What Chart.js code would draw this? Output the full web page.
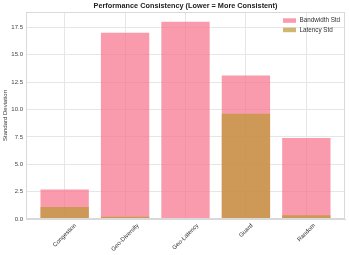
<!DOCTYPE html>
<html>
<head>
<meta charset="utf-8">
<script src="https://cdn.jsdelivr.net/npm/chart.js@4/dist/chart.umd.min.js"></script>
<style>
  body { margin: 0; background: #fff; }
</style>
</head>
<body>
<canvas id="chart" width="349" height="255"></canvas>
<script>
const categories = ["Congestion", "Geo-Diversity", "Geo-Latency", "Guard", "Random"];
const bandwidthStd = [2.7, 17.0, 18.0, 13.1, 7.4];
const latencyStd = [1.1, 0.2, 0.05, 9.6, 0.35];
const yTicks = [0, 2.5, 5, 7.5, 10, 12.5, 15, 17.5];
const chartTitle = "Performance Consistency (Lower = More Consistent)";

const font = "'Liberation Sans', Arial, sans-serif";

// matplotlib-like extras: title over the plot, frame, centred rotated labels, inner legend
const extras = {
    id: "extras",
    afterDraw(chart) {
        const ctx = chart.ctx;
        const area = chart.chartArea;
        const xs = chart.scales.x;
        ctx.save();

        // plot frame
        ctx.strokeStyle = "#d9d9d9";
        ctx.lineWidth = 1;
        ctx.strokeRect(area.left + 0.5, area.top + 0.5, area.right - area.left - 1, area.bottom - area.top - 1);

        // title, centred on the plot area
        ctx.font = "bold 7.3px " + font;
        ctx.fillStyle = "#222";
        ctx.textAlign = "center";
        ctx.textBaseline = "middle";
        ctx.fillText(chartTitle, (area.left + area.right) / 2, 6);

        // x labels rotated 45deg, bbox centred under the tick
        ctx.font = "6px " + font;
        ctx.fillStyle = "#333";
        ctx.textAlign = "right";
        ctx.textBaseline = "top";
        const h = 6;
        categories.forEach((c, i) => {
            const w = ctx.measureText(c).width;
            const x = xs.getPixelForValue(i) + 0.354 * (w - h);
            ctx.save();
            ctx.translate(x, area.bottom + 3.5);
            ctx.rotate(-Math.PI / 4);
            ctx.fillText(c, 0, 0);
            ctx.restore();
        });

        // legend, top right inside the plot
        ctx.font = "6.3px " + font;
        ctx.textAlign = "left";
        ctx.textBaseline = "middle";
        chart.data.datasets.forEach((ds, i) => {
            const y = area.top + 8.3 + i * 9.4;
            ctx.fillStyle = ds.backgroundColor;
            ctx.fillRect(area.right - 62, y - 2, 13, 4.5);
            ctx.fillStyle = "#333";
            ctx.fillText(ds.label, area.right - 45.5, y + 0.3);
        });
        ctx.restore();
    }
};

new Chart(document.getElementById("chart"), {
    type: "bar",
    data: {
        datasets: [
            {
                label: "Bandwidth Std",
                data: bandwidthStd.map((v, i) => ({ x: i, y: v })),
                backgroundColor: "rgba(247, 113, 137, 0.7)",
                order: 2
            },
            {
                label: "Latency Std",
                data: latencyStd.map((v, i) => ({ x: i, y: v })),
                backgroundColor: "rgba(187, 152, 50, 0.7)",
                order: 1
            }
        ]
    },
    options: {
        responsive: false,
        animation: false,
        grouped: false,
        barPercentage: 0.8,
        categoryPercentage: 1,
        layout: { padding: { left: 0, right: 4, top: 12, bottom: 0 } },
        plugins: {
            legend: { display: false },
            tooltip: { enabled: false },
            title: { display: false }
        },
        scales: {
            x: {
                type: "linear",
                offset: false,
                min: -0.64,
                max: 4.64,
                afterBuildTicks: s => { s.ticks = categories.map((c, i) => ({ value: i })); },
                afterFit: s => { s.height = 36; },
                grid: { color: "#e6e6e6", drawTicks: false, offset: false },
                border: { color: "#d9d9d9" },
                ticks: { display: false }
            },
            y: {
                min: 0,
                max: 18.9,
                afterBuildTicks: s => { s.ticks = yTicks.map(v => ({ value: v })); },
                afterFit: s => { s.width = 26; },
                grid: { color: "#e6e6e6", drawTicks: false },
                border: { color: "#d9d9d9" },
                title: {
                    display: true,
                    text: "Standard Deviation",
                    color: "#333",
                    font: { family: font, size: 6 },
                    padding: { top: 2, bottom: 0 }
                },
                ticks: {
                    padding: 3,
                    color: "#444",
                    font: { family: font, size: 6 },
                    callback: v => v.toFixed(1)
                }
            }
        }
    },
    plugins: [extras]
});
</script>
</body>
</html>
